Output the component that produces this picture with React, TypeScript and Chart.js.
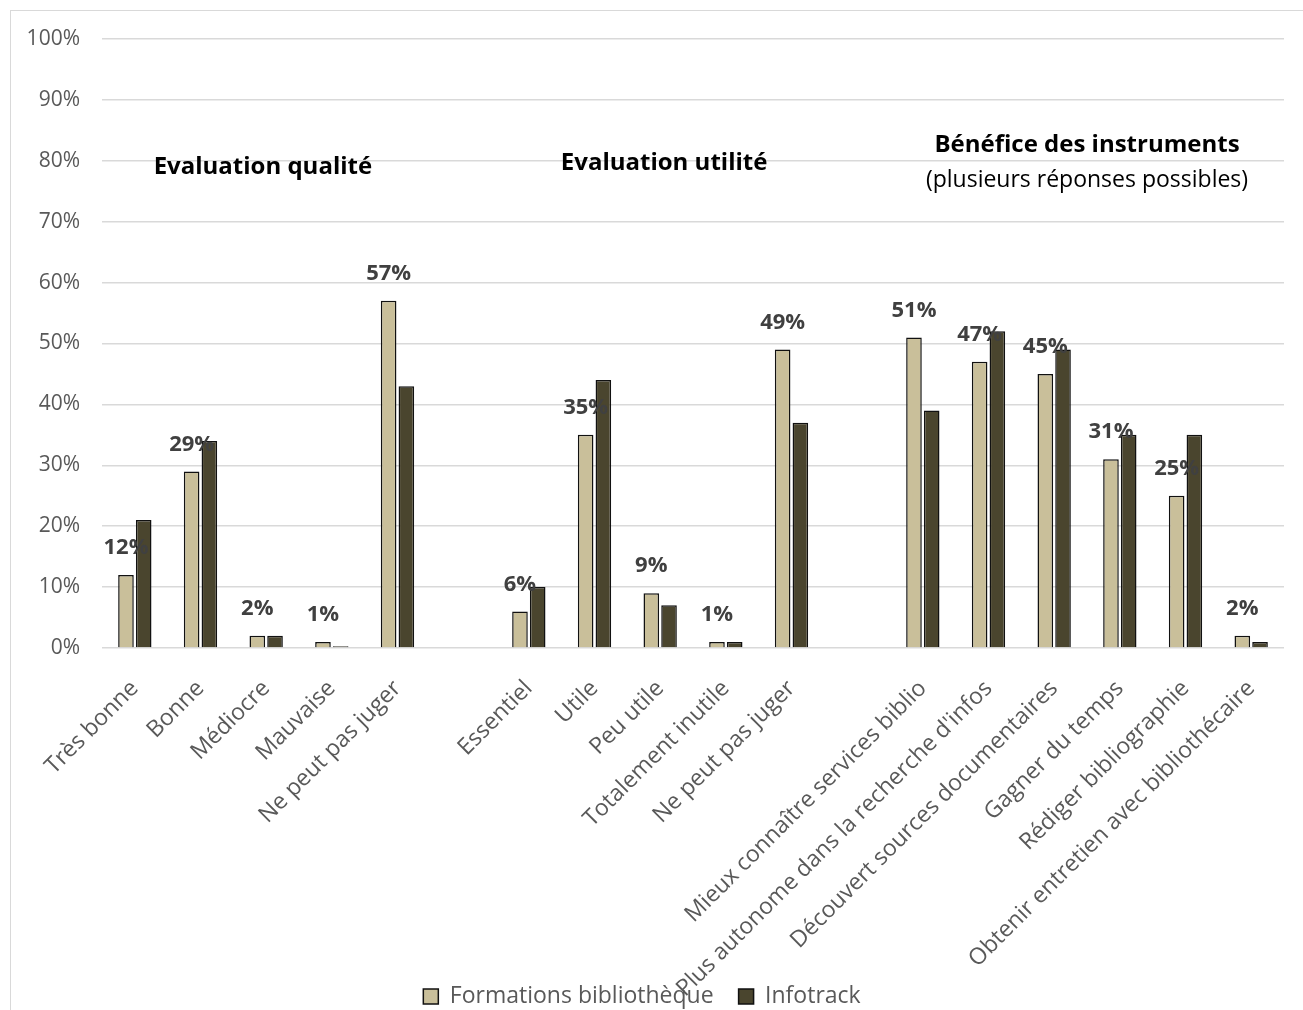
import React, { useEffect, useRef } from "react";
import { Chart, registerables } from "chart.js";

Chart.register(...registerables);

const categories = [
  "Très bonne",
  "Bonne",
  "Médiocre",
  "Mauvaise",
  "Ne peut pas juger",
  "",
  "Essentiel",
  "Utile",
  "Peu utile",
  "Totalement inutile",
  "Ne peut pas juger",
  "",
  "Mieux connaître services biblio",
  "Plus autonome dans la recherche d'infos",
  "Découvert sources documentaires",
  "Gagner du temps",
  "Rédiger bibliographie",
  "Obtenir entretien avec bibliothécaire",
];

const formations: (number | null)[] = [12, 29, 2, 1, 57, null, 6, 35, 9, 1, 49, null, 51, 47, 45, 31, 25, 2];
const infotrack: (number | null)[] = [21, 34, 2, 0.3, 43, null, 10, 44, 7, 1, 37, null, 39, 52, 49, 35, 35, 1];

const seriesNames = ["Formations bibliothèque", "Infotrack"];
const yMin = 0;
const yMax = 100;
const yStep = 10;

const groupTitles = ["Evaluation qualité", "Evaluation utilité", "Bénéfice des instruments"];
const groupSubtitle = "(plusieurs réponses possibles)";

const FONT = "'Open Sans'";

const annotationPlugin = {
  id: "groupTitles",
  afterDraw(chart: any) {
    const { ctx } = chart;
    const x = chart.scales.x;
    const y = chart.scales.y;
    ctx.save();
    ctx.fillStyle = "#000000";
    ctx.textAlign = "center";
    ctx.textBaseline = "middle";
    ctx.font = `bold 24px ${FONT}`;
    ctx.fillText(groupTitles[0], x.getPixelForValue(1.95), y.getPixelForValue(79));
    ctx.fillText(groupTitles[1], x.getPixelForValue(8.06), y.getPixelForValue(79.6));
    ctx.fillText(groupTitles[2], x.getPixelForValue(14.5), y.getPixelForValue(82.6));
    ctx.font = `23px ${FONT}`;
    ctx.fillText(groupSubtitle, x.getPixelForValue(14.5), y.getPixelForValue(76.8));
    ctx.restore();
  },
};

const dataLabelPlugin = {
  id: "dataLabels",
  afterDatasetsDraw(chart: any) {
    const { ctx } = chart;
    const meta = chart.getDatasetMeta(0);
    ctx.save();
    ctx.fillStyle = "#404040";
    ctx.textAlign = "center";
    ctx.textBaseline = "middle";
    ctx.font = `bold 22px ${FONT}`;
    meta.data.forEach((el: any, i: number) => {
      const v = formations[i];
      if (v === null || v === undefined) return;
      ctx.fillText(`${v}%`, el.x, el.y - 27);
    });
    ctx.restore();
  },
};

const layoutTweakPlugin = {
  id: "layoutTweak",
  afterLayout(chart: any) {
    if (chart.legend) {
      chart.legend.top += 8;
      chart.legend.bottom += 8;
    }
    // let the long rotated category labels run down over the legend area
    if (chart.scales.x) {
      chart.scales.x.bottom = chart.height;
    }
  },
};

export default function App() {
  const canvasRef = useRef<HTMLCanvasElement | null>(null);

  useEffect(() => {
    if (!canvasRef.current) return;
    const chart = new Chart(canvasRef.current, {
      type: "bar",
      data: {
        labels: categories,
        datasets: [
          {
            label: seriesNames[0],
            data: formations,
            backgroundColor: "#c9bf9a",
            borderColor: "#111111",
            borderWidth: 1.5,
            categoryPercentage: 0.54,
            barPercentage: 0.88,
          },
          {
            label: seriesNames[1],
            data: infotrack,
            backgroundColor: "#4a452e",
            borderColor: "#111111",
            borderWidth: 1.5,
            categoryPercentage: 0.54,
            barPercentage: 0.88,
          },
        ],
      },
      options: {
        animation: false,
        responsive: true,
        maintainAspectRatio: false,
        layout: { padding: { left: 0, right: 19, top: 39, bottom: 0 } },
        plugins: {
          legend: {
            position: "bottom",
            labels: {
              boxWidth: 15,
              boxHeight: 15,
              padding: 25,
              color: "#595959",
              font: { family: FONT, size: 23 },
            },
          },
          tooltip: { enabled: false },
        },
        scales: {
          x: {
            grid: { display: false },
            border: { display: false },
            ticks: {
              autoSkip: false,
              maxRotation: 45,
              minRotation: 45,
              padding: 19,
              color: "#595959",
              font: { family: FONT, size: 23 },
            },
            afterFit: (s: any) => {
              s.height = 304;
            },
          },
          y: {
            min: yMin,
            max: yMax,
            ticks: {
              stepSize: yStep,
              padding: 22,
              color: "#595959",
              font: { family: FONT, size: 21 },
              callback: (v: any) => `${v}%`,
            },
            grid: { color: "#d9d9d9", lineWidth: 1.5, drawTicks: false },
            border: { display: false },
            afterFit: (s: any) => {
              s.width = 102;
            },
          },
        },
      },
      plugins: [annotationPlugin, dataLabelPlugin, layoutTweakPlugin],
    } as any);
    return () => chart.destroy();
  }, []);

  return (
    <div style={{ position: "fixed", left: 0, top: 0, width: 1303, height: 1010, background: "#ffffff" }}>
      <div
        style={{
          position: "absolute",
          left: 10,
          top: 10,
          width: 1310,
          height: 1020,
          border: "1.5px solid #d9d9d9",
          boxSizing: "border-box",
        }}
      />
      <div style={{ position: "absolute", left: 0, top: 0, width: 1303, height: 1010 }}>
        <canvas ref={canvasRef} />
      </div>
    </div>
  );
}
